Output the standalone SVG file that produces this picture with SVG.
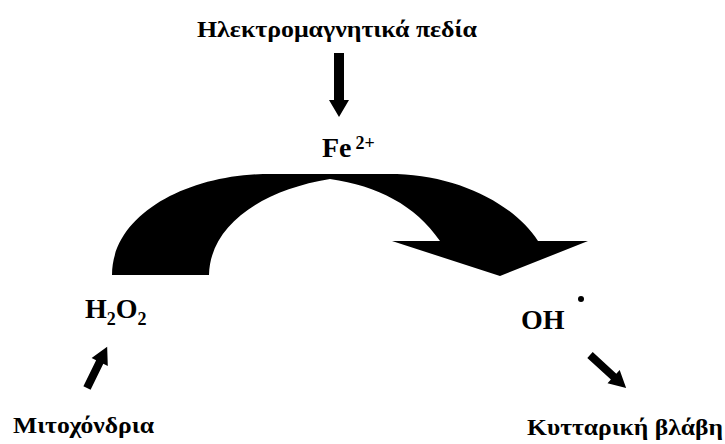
<svg xmlns="http://www.w3.org/2000/svg" width="725" height="444" viewBox="0 0 725 444">
<style>
text{font-family:"Liberation Serif","Times New Roman",serif;font-weight:bold;fill:#000}
.lbl{font-size:24px}
.chem{font-size:28px}
.sub{font-size:18px}
.arr{fill:#000}
</style>
<rect width="725" height="444" fill="#fff"/>
<g id="emf"><text class="lbl" x="197" y="37" textLength="280" lengthAdjust="spacingAndGlyphs">Ηλεκτρομαγνητικά πεδία</text></g>
<g id="fe"><text class="chem" x="322" y="157">Fe<tspan class="sub" dx="4" dy="-8">2+</tspan></text></g>
<g id="h2o2"><text class="chem" x="85" y="318">H<tspan class="sub" dy="7">2</tspan><tspan dy="-7">O</tspan><tspan class="sub" dy="7">2</tspan></text></g>
<g id="oh"><text class="chem" x="521" y="329">OH</text><circle cx="581" cy="299" r="3" fill="#000"/></g>
<g id="mito"><text class="lbl" x="13" y="433" textLength="141" lengthAdjust="spacingAndGlyphs">Μιτοχόνδρια</text></g>
<g id="damage"><text class="lbl" x="527" y="435" textLength="196" lengthAdjust="spacingAndGlyphs">Κυτταρική βλάβη</text></g>
<g id="connectors">
<path class="arr" d="M112,275 C112,215 185,176 263,174 L397,174 C460,176 515,205 538,241 L588,241 L500,276 L392,241 L440,241 C415,205 378,186 330,179 C262,190 210,225 209,275 Z"/>
<path class="arr" d="M0,-5 L47,-5 L47,-10 L64,0 L47,10 L47,5 L0,5 Z" transform="translate(339,53) rotate(90)"/>
<path class="arr" d="M0,-4 L29,-4 L29,-9 L46,0 L29,9 L29,4 L0,4 Z" transform="translate(87,388) rotate(-64)"/>
<path class="arr" d="M0,-4 L32,-4 L32,-9 L49,0 L32,9 L32,4 L0,4 Z" transform="translate(590,355) rotate(42.5)"/>
</g>
</svg>
